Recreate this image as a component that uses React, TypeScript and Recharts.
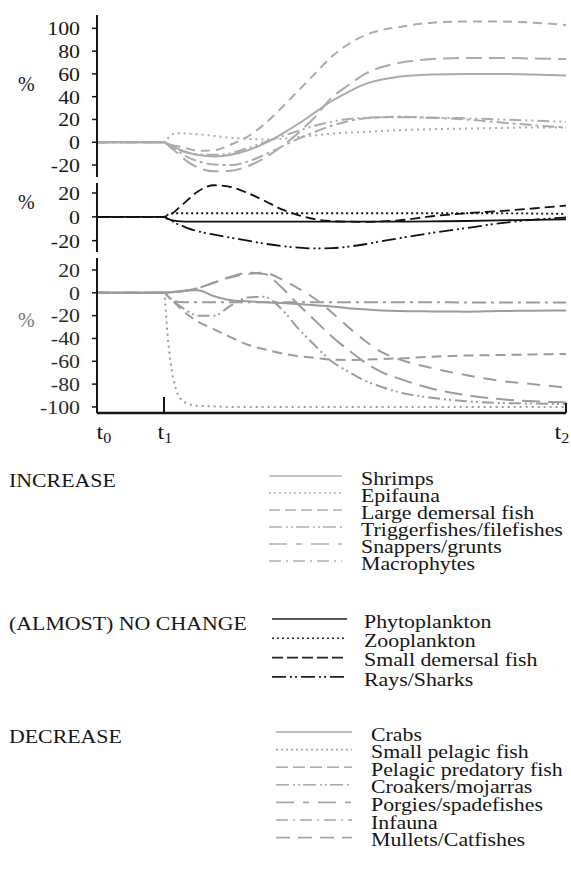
import React from 'react';
import { LineChart, Line, XAxis, YAxis } from 'recharts';

// time axis: t0 = 0, t1 = 1, t2 = 7
const TIME = [0, 1, 1.05, 1.1, 1.15, 1.2, 1.25, 1.35, 1.5, 1.75, 2, 2.25, 2.5, 2.75, 3, 3.25, 3.5, 3.75, 4, 4.25, 4.5, 5, 5.5, 6, 6.5, 7];

// INCREASE (% change)
const SHRIMPS = [0, 0, -1, -2.5, -4, -5.5, -7, -9, -11, -12.5, -11, -7, -1, 7, 16, 26, 36, 44, 51, 55, 57.5, 59.5, 60, 60, 59.5, 58.5];
const EPIFAUNA = [0, 0, 3, 6, 7.5, 8, 8, 7.5, 7, 5.5, 4, 3, 2.5, 3, 4.5, 6, 7.5, 8.5, 9, 9.8, 10.5, 11.5, 12, 12.5, 13, 13];
const LARGE_DEMERSAL = [0, 0, -1, -2, -3, -3.5, -4, -5.5, -7.5, -7, -2, 5, 16, 30, 45, 60, 75, 86, 94, 98.5, 101, 105, 106, 106, 105, 103];
const TRIGGERFISHES = [0, 0, -1, -2.5, -4, -5.5, -7, -9, -10.5, -11, -9.5, -5, 0, 5, 10, 14.5, 18, 20.5, 21.5, 22, 22, 21.5, 21, 20, 19, 18];
const SNAPPERS = [0, 0, -2, -4.5, -7, -9.5, -12, -17, -22, -25.5, -25, -21, -14, -4, 8, 22, 39, 50, 60, 66, 69.5, 73, 74, 74, 73.5, 73];
const MACROPHYTES = [0, 0, -1.5, -3.5, -5.5, -7.5, -9.5, -13, -16.5, -19.5, -20, -17, -11, -4, 3, 9, 14.5, 18.5, 21, 22, 22.5, 21.5, 20, 17.5, 15, 13];

// (ALMOST) NO CHANGE
const PHYTOPLANKTON = [0, 0, -1.5, -2.5, -3.2, -3.6, -3.8, -4, -4, -4, -4, -4, -4, -4, -4, -4, -4, -4, -4, -4, -4, -3.8, -3.5, -3, -2.5, -2];
const ZOOPLANKTON = [0, 0, 1.5, 2.8, 3, 3, 3, 3, 3, 3, 3, 3, 3, 3, 3, 3, 3, 3, 3, 3, 3, 3, 3, 3, 2.8, 2.5];
const SMALL_DEMERSAL = [0, 0, 1, 2, 4, 6.5, 9, 14, 21, 26.5, 25, 20, 13.5, 6.5, 1.5, -2, -3.5, -4, -4.2, -3.8, -3, 0.5, 3, 4.8, 7, 9.5];
const RAYS_SHARKS = [0, 0, -1.5, -3, -4.5, -6, -7, -9.5, -12, -15, -17.5, -20, -22.5, -24.5, -25.8, -26.5, -26.3, -25, -23, -20.5, -18, -13.5, -9.5, -5.5, -2.5, -0.5];

// DECREASE
const CRABS = [0, 0, 0.3, 0.6, 1, 1.3, 1.6, 2.2, 2.2, -3, -6.5, -7.5, -8.3, -9, -9.8, -11, -12, -13.5, -14.5, -15.5, -16, -16.3, -16.5, -16, -15.7, -15.5];
const SMALL_PELAGIC = [0, 0, -35, -62, -78, -88, -93, -97, -99, -99.5, -100, -100, -100, -100, -100, -100, -100, -100, -100, -100, -100, -100, -100, -100, -100, -100];
const PELAGIC_PREDATORY = [0, 0, -2.5, -5, -8, -11, -14, -19, -25, -32, -39, -45.5, -49.5, -53, -55.5, -57, -58.5, -58.8, -58.5, -58, -57.5, -56, -55, -54.5, -54, -53.5];
const CROAKERS = [0, 0, -2.5, -5, -7.5, -10, -12, -16, -20, -20, -11, -4, -3.5, -14, -31, -46, -60, -69, -77, -82.5, -87, -92, -95, -96.5, -97, -97.5];
const PORGIES = [0, 0, 0, 0.3, 0.6, 0.8, 1, 2, 4, 9, 14, 17.5, 16.5, 5, -10, -24, -38, -50, -61, -69.5, -75, -84, -89.5, -93, -95, -96];
const INFAUNA = [0, 0, -3, -5.5, -7, -7.8, -8, -8.2, -8.2, -8.2, -8.2, -8.2, -8.2, -8.2, -8.2, -8.2, -8.2, -8.2, -8.2, -8.2, -8.3, -8.3, -8.4, -8.4, -8.5, -8.5];
const MULLETS = [0, 0, 0, 0.3, 0.6, 0.8, 1, 2, 4, 9, 13.5, 16.5, 17.5, 12, 4, -5, -17, -30, -42, -52, -58, -66, -72, -77, -80, -83];

const INCREASE_NAMES = ['Shrimps', 'Epifauna', 'Large demersal fish', 'Triggerfishes/filefishes', 'Snappers/grunts', 'Macrophytes'];
const NO_CHANGE_NAMES = ['Phytoplankton', 'Zooplankton', 'Small demersal fish', 'Rays/Sharks'];
const DECREASE_NAMES = ['Crabs', 'Small pelagic fish', 'Pelagic predatory fish', 'Croakers/mojarras', 'Porgies/spadefishes', 'Infauna', 'Mullets/Catfishes'];

const INCREASE_VALUES = [SHRIMPS, EPIFAUNA, LARGE_DEMERSAL, TRIGGERFISHES, SNAPPERS, MACROPHYTES];
const NO_CHANGE_VALUES = [PHYTOPLANKTON, ZOOPLANKTON, SMALL_DEMERSAL, RAYS_SHARKS];
const DECREASE_VALUES = [CRABS, SMALL_PELAGIC, PELAGIC_PREDATORY, CROAKERS, PORGIES, INFAUNA, MULLETS];

const TOP_TICKS = [-20, 0, 20, 40, 60, 80, 100];
const MID_TICKS = [-20, 0, 20];
const BOTTOM_TICKS = [-100, -80, -60, -40, -20, 0, 20];
const TIME_TICKS = [0, 1, 7];
const TIME_SUBSCRIPTS = ['0', '1', '2'];

const GROUP_TITLES = ['INCREASE', '(ALMOST) NO CHANGE', 'DECREASE'];

const SERIF = "'Liberation Serif', 'Times New Roman', serif";
const STRETCH = 1.15;
const INK = '#161616';

// line looks per series, same order as the name lists
const INCREASE_DASH = ['', '2 4', '9 6', '12 4 2 4 2 4', '16 7', '12 4 3 4'];
const NO_CHANGE_DASH = ['', '2 3', '10 5', '14 4 2 3 2 4'];
const DECREASE_DASH = ['', '2 4', '10 6', '12 4 2 3 2 4', '18 8', '14 5 3 5', '13 9'];

const LEGEND_INCREASE_DASH = ['', '2 3', '11 5', '13 4 2 3 2 3', '18 9 6 9', '12 5 2 5'];
const LEGEND_NO_CHANGE_DASH = ['', '2 3', '11 4', '14 4 2 3 2 4'];
const LEGEND_DECREASE_DASH = ['', '2 3', '12 5', '13 4 2 3 2 3', '18 9 6 9', '12 5 2 5', '14 8'];

const toRows = (values: number[][]) =>
  TIME.map((t, i) => {
    const row: Record<string, number> = { t };
    values.forEach((v, k) => {
      row[`s${k}`] = v[i];
    });
    return row;
  });

const ValueTick = ({ x, y, payload, fill }: any) => (
  <g transform={`translate(${x},${y}) scale(${STRETCH},1)`}>
    <text x={0} y={0} dy="0.36em" textAnchor="end" fontFamily={SERIF} fontSize={19} fill={fill}>
      {payload.value}
    </text>
  </g>
);

const TimeTick = ({ x, y, payload }: any) => {
  const idx = TIME_TICKS.indexOf(payload.value);
  const mark = idx === 1 ? 16 : idx === 2 ? 10 : 0;
  const shift = idx === 0 ? 7 : idx === 2 ? -4 : 1;
  return (
    <g>
      {mark > 0 && <line x1={x} x2={x} y1={y} y2={y - mark} stroke={INK} strokeWidth={2} />}
      <g transform={`translate(${x + shift},${y + 26}) scale(${STRETCH},1)`}>
        <text x={0} y={0} textAnchor="middle" fontFamily={SERIF} fontSize={21} fill={INK}>
          t
          <tspan fontSize={14} dy={4}>
            {TIME_SUBSCRIPTS[idx]}
          </tspan>
        </text>
      </g>
    </g>
  );
};

interface PanelProps {
  top: number;
  height: number;
  marginTop: number;
  marginBottom: number;
  values: number[][];
  dashes: string[];
  color: string;
  strokeWidth: number;
  domain: [number, number];
  ticks: number[];
  tickFill: string;
  showTime?: boolean;
}

function Panel(props: PanelProps) {
  const { top, height, marginTop, marginBottom, values, dashes, color, strokeWidth, domain, ticks, tickFill, showTime } = props;
  const rows = toRows(values);
  return (
    <div style={{ position: 'absolute', left: 0, top }}>
      <LineChart
        width={571}
        height={height}
        data={rows}
        margin={{ top: marginTop, right: 5, bottom: marginBottom, left: 0 }}
      >
        <XAxis
          dataKey="t"
          type="number"
          domain={[0, 7]}
          ticks={TIME_TICKS}
          interval={0}
          hide={!showTime}
          height={35}
          axisLine={{ stroke: INK, strokeWidth: 2.5 }}
          tickLine={false}
          tickSize={0}
          tickMargin={0}
          tick={(p: any) => <TimeTick {...p} />}
        />
        <YAxis
          type="number"
          domain={domain}
          ticks={ticks}
          interval={0}
          allowDataOverflow
          width={97}
          axisLine={{ stroke: INK, strokeWidth: 2 }}
          tickLine={{ stroke: INK, strokeWidth: 1.5 }}
          tickSize={5}
          tickMargin={12}
          tick={(p: any) => <ValueTick {...p} fill={tickFill} />}
        />
        {values.map((_, k) => (
          <Line
            key={k}
            dataKey={`s${k}`}
            type="monotone"
            stroke={color}
            strokeWidth={strokeWidth}
            strokeDasharray={dashes[k] || undefined}
            dot={false}
            activeDot={false}
            isAnimationActive={false}
          />
        ))}
      </LineChart>
    </div>
  );
}

interface GroupProps {
  title: string;
  names: string[];
  dashes: string[];
  y0: number;
  step: number;
  color: string;
  x1: number;
  x2: number;
  textX: number;
}

function LegendGroup({ title, names, dashes, y0, step, color, x1, x2, textX }: GroupProps) {
  return (
    <g>
      <g transform={`translate(9,${y0 + 2}) scale(${STRETCH},1)`}>
        <text x={0} y={0} dy="0.35em" fontFamily={SERIF} fontSize={19} fill={INK}>
          {title}
        </text>
      </g>
      {names.map((name, i) => {
        const y = y0 + i * step;
        return (
          <g key={name}>
            <line
              x1={x1}
              x2={x2}
              y1={y - 2}
              y2={y - 2}
              stroke={color}
              strokeWidth={1.6}
              strokeDasharray={dashes[i] || undefined}
            />
            <g transform={`translate(${textX},${y}) scale(${STRETCH},1)`}>
              <text x={0} y={0} dy="0.35em" fontFamily={SERIF} fontSize={19} fill={INK}>
                {name}
              </text>
            </g>
          </g>
        );
      })}
    </g>
  );
}

export default function App() {
  return (
    <div style={{ position: 'absolute', left: 0, top: 0, width: 571, height: 870, background: '#fff', overflow: 'hidden' }}>
      <Panel
        top={0}
        height={180}
        marginTop={15}
        marginBottom={3}
        values={INCREASE_VALUES}
        dashes={INCREASE_DASH}
        color="#ababab"
        strokeWidth={2}
        domain={[-30.5, 111.7]}
        ticks={TOP_TICKS}
        tickFill={INK}
      />
      <Panel
        top={180}
        height={75}
        marginTop={3}
        marginBottom={3}
        values={NO_CHANGE_VALUES}
        dashes={NO_CHANGE_DASH}
        color="#111"
        strokeWidth={1.8}
        domain={[-29.5, 28.4]}
        ticks={MID_TICKS}
        tickFill={INK}
      />
      <Panel
        top={255}
        height={200}
        marginTop={3}
        marginBottom={7}
        values={DECREASE_VALUES}
        dashes={DECREASE_DASH}
        color="#9c9c9c"
        strokeWidth={2}
        domain={[-105.3, 30.5]}
        ticks={BOTTOM_TICKS}
        tickFill="#2a2a2a"
        showTime
      />
      <svg width={571} height={870} style={{ position: 'absolute', left: 0, top: 0, pointerEvents: 'none' }}>
        <g fontFamily={SERIF} fontSize={20}>
          <text x={18} y={84} dy="0.35em" fill={INK}>%</text>
          <text x={18} y={202} dy="0.35em" fill={INK}>%</text>
          <text x={18} y={320} dy="0.35em" fill="#777">%</text>
        </g>
        <LegendGroup
          title={GROUP_TITLES[0]}
          names={INCREASE_NAMES}
          dashes={LEGEND_INCREASE_DASH}
          y0={478}
          step={17}
          color="#b0b0b0"
          x1={269}
          x2={342}
          textX={361}
        />
        <LegendGroup
          title={GROUP_TITLES[1]}
          names={NO_CHANGE_NAMES}
          dashes={LEGEND_NO_CHANGE_DASH}
          y0={621}
          step={19.3}
          color="#222"
          x1={272}
          x2={347}
          textX={364}
        />
        <LegendGroup
          title={GROUP_TITLES[2]}
          names={DECREASE_NAMES}
          dashes={LEGEND_DECREASE_DASH}
          y0={734}
          step={17.6}
          color="#a8a8a8"
          x1={276}
          x2={352}
          textX={371}
        />
      </svg>
    </div>
  );
}
